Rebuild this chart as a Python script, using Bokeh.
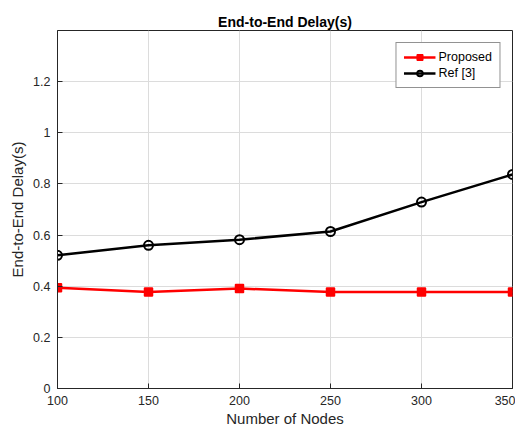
from bokeh.plotting import figure
from bokeh.models import Range1d, FixedTicker, Legend, LegendItem
from bokeh.embed import file_html
from bokeh.resources import INLINE

nodes = [100, 150, 200, 250, 300, 350]
proposed = [0.394, 0.377, 0.391, 0.377, 0.377, 0.377]
ref3 = [0.521, 0.560, 0.582, 0.614, 0.729, 0.837]
x_ticks = [100, 150, 200, 250, 300, 350]
y_ticks = [0, 0.2, 0.4, 0.6, 0.8, 1.0, 1.2]
y_tick_labels = ["0", "0.2", "0.4", "0.6", "0.8", "1", "1.2"]

FONT = "Liberation Sans"
AX = "#262626"

p = figure(width=515, height=429, output_backend="svg", toolbar_location=None,
           x_range=Range1d(100, 350), y_range=Range1d(0, 1.4),
           title="End-to-End Delay(s)",
           min_border_left=57, min_border_right=3, min_border_top=30, min_border_bottom=41)

p.title.align = "center"
p.title.text_font = FONT
p.title.text_font_size = "14px"
p.title.text_font_style = "bold"
p.title.text_color = "#000000"
p.title.offset = 0
p.title.standoff = 2

p.outline_line_color = AX
p.outline_line_width = 1
p.outline_line_alpha = 1.0
p.background_fill_color = "white"
p.border_fill_color = "white"

p.xaxis.ticker = FixedTicker(ticks=x_ticks)
p.yaxis.ticker = FixedTicker(ticks=y_ticks)
p.yaxis.major_label_overrides = {t: l for t, l in zip(y_ticks, y_tick_labels)}
p.xaxis.axis_label = "Number of Nodes"
p.yaxis.axis_label = "End-to-End Delay(s)"
for ax in (p.xaxis, p.yaxis):
    ax.axis_line_color = AX
    ax.major_tick_in = 5
    ax.major_tick_out = 0
    ax.minor_tick_line_color = None
    ax.major_tick_line_color = AX
    ax.major_label_text_font = FONT
    ax.major_label_text_font_size = "12.5px"
    ax.major_label_text_color = AX
    ax.axis_label_text_font = FONT
    ax.axis_label_text_font_size = "15px"
    ax.axis_label_text_font_style = "normal"
    ax.axis_label_text_color = AX
p.xaxis.major_label_standoff = 7
p.xaxis.axis_label_standoff = 2
p.yaxis.major_label_standoff = 7
p.yaxis.axis_label_standoff = 4

p.grid.grid_line_color = "#dcdcdc"
p.grid.grid_line_alpha = 1.0

r1 = p.line(nodes, proposed, line_color="#ff0000", line_width=2.5)
m1 = p.scatter(nodes, proposed, marker="square", size=8, fill_color="#ff0000",
               line_color="#ff0000", line_width=1.5)
r2 = p.line(nodes, ref3, line_color="#000000", line_width=2.5)
m2 = p.scatter(nodes, ref3, marker="circle", size=9, fill_color=None,
               line_color="#000000", line_width=2)

legend = Legend(items=[LegendItem(label="Proposed", renderers=[r1, m1]),
                       LegendItem(label="Ref [3]", renderers=[r2, m2])],
                location="top_right")
legend.label_text_font = FONT
legend.label_text_font_size = "12.5px"
legend.label_text_color = "#000000"
legend.border_line_color = AX
legend.border_line_width = 1
legend.margin = 12
legend.padding = 7
legend.spacing = 2
legend.glyph_width = 32
legend.glyph_height = 14
legend.label_standoff = 3
legend.label_height = 14
p.add_layout(legend, "center")

open("out.html", "w").write(file_html(p, INLINE))
